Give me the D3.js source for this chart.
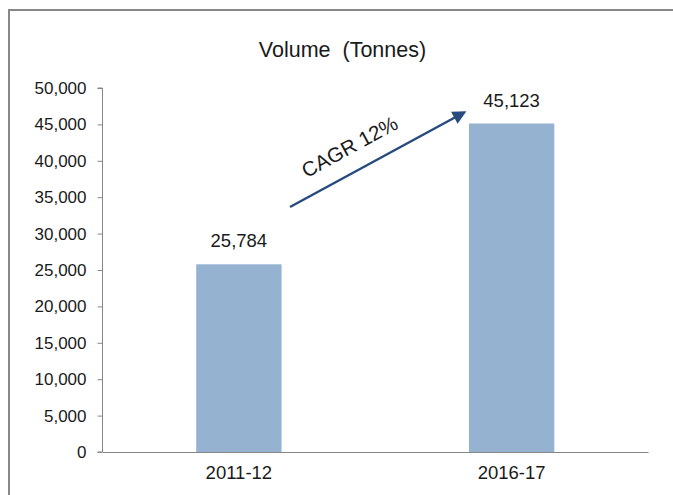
<!DOCTYPE html>
<html>
<head>
<meta charset="utf-8">
<script src="https://cdn.jsdelivr.net/npm/d3@7"></script>
<style>
  html, body { margin: 0; padding: 0; background: #fff; }
  svg { display: block; font-family: "Liberation Sans", Arial, sans-serif; }
</style>
</head>
<body>
<svg id="chart" width="673" height="495"></svg>
<script>
// Production volume by fiscal year
const categories = ["2011-12", "2016-17"];
const volumes = [25784, 45123];
const yTickValues = [0, 5000, 10000, 15000, 20000, 25000, 30000, 35000, 40000, 45000, 50000];
const chartTitle = "Volume  (Tonnes)";
const growthLabel = "CAGR 12%";

const svg = d3.select("#chart");
const W = 673, H = 495;
const plot = { left: 102.5, right: 648, top: 88, bottom: 452 };

// frame around the chart area
svg.append("path")
  .attr("d", `M9,${H + 5}V10H${W + 5}`)
  .attr("fill", "none")
  .attr("stroke", "#878787")
  .attr("stroke-width", 2);

const x = d3.scaleBand()
  .domain(categories)
  .range([plot.left, plot.right])
  .paddingInner(0.687)
  .paddingOuter(0.3435);

const y = d3.scaleLinear()
  .domain([0, 50000])
  .range([plot.bottom, plot.top]);

const fmt = d3.format(",");

// title
svg.append("text")
  .attr("x", 342.5)
  .attr("y", 57)
  .attr("text-anchor", "middle")
  .attr("font-size", 21.5)
  .attr("fill", "#1a1a1a")
  .style("white-space", "pre")
  .text(chartTitle);

// bars
svg.append("g")
  .selectAll("rect")
  .data(categories)
  .join("rect")
  .attr("x", d => x(d))
  .attr("width", x.bandwidth())
  .attr("y", (d, i) => y(volumes[i]))
  .attr("height", (d, i) => y(0) - y(volumes[i]))
  .attr("fill", "#95b3d0");

// value labels
svg.append("g")
  .selectAll("text")
  .data(categories)
  .join("text")
  .attr("x", d => x(d) + x.bandwidth() / 2)
  .attr("y", (d, i) => y(volumes[i]) - 17)
  .attr("text-anchor", "middle")
  .attr("font-size", 18.5)
  .attr("fill", "#1a1a1a")
  .text((d, i) => fmt(volumes[i]));

// y axis
const yAxis = svg.append("g")
  .attr("transform", `translate(${plot.left},0)`)
  .call(d3.axisLeft(y).tickValues(yTickValues).tickFormat(fmt).tickSize(5).tickPadding(11));
yAxis.select(".domain").attr("stroke", "#868686").attr("d", `M-5,${plot.top}H0V${plot.bottom}H-5`);
yAxis.selectAll(".tick line").attr("stroke", "#868686");
yAxis.selectAll(".tick text")
  .attr("font-size", 17)
  .attr("font-family", "Liberation Sans, Arial, sans-serif")
  .attr("fill", "#1a1a1a");

// x axis
const xAxis = svg.append("g")
  .attr("transform", `translate(0,${plot.bottom})`)
  .call(d3.axisBottom(x).tickSize(0).tickPadding(14));
xAxis.select(".domain").attr("stroke", "#868686");
xAxis.selectAll(".tick text")
  .attr("font-size", 18.5)
  .attr("font-family", "Liberation Sans, Arial, sans-serif")
  .attr("fill", "#1a1a1a");

// growth arrow between the two bars
const arrowColor = "#274b80";
svg.append("defs").append("marker")
  .attr("id", "arrowHead")
  .attr("viewBox", "0 0 10 10")
  .attr("refX", 8)
  .attr("refY", 5)
  .attr("markerWidth", 6)
  .attr("markerHeight", 5.5)
  .attr("markerUnits", "strokeWidth")
  .attr("orient", "auto")
  .append("path")
  .attr("d", "M0,0L10,5L0,10Z")
  .attr("fill", arrowColor);

const arrowStart = [290, 207];
const arrowEnd = [464, 112.5];
svg.append("line")
  .attr("x1", arrowStart[0]).attr("y1", arrowStart[1])
  .attr("x2", arrowEnd[0]).attr("y2", arrowEnd[1])
  .attr("stroke", arrowColor)
  .attr("stroke-width", 2.5)
  .attr("marker-end", "url(#arrowHead)");

const angle = Math.atan2(arrowEnd[1] - arrowStart[1], arrowEnd[0] - arrowStart[0]) * 180 / Math.PI;
svg.append("text")
  .attr("transform", `translate(353,153) rotate(${angle})`)
  .attr("text-anchor", "middle")
  .attr("font-size", 20.5)
  .attr("fill", "#1a1a1a")
  .text(growthLabel);
</script>
</body>
</html>
